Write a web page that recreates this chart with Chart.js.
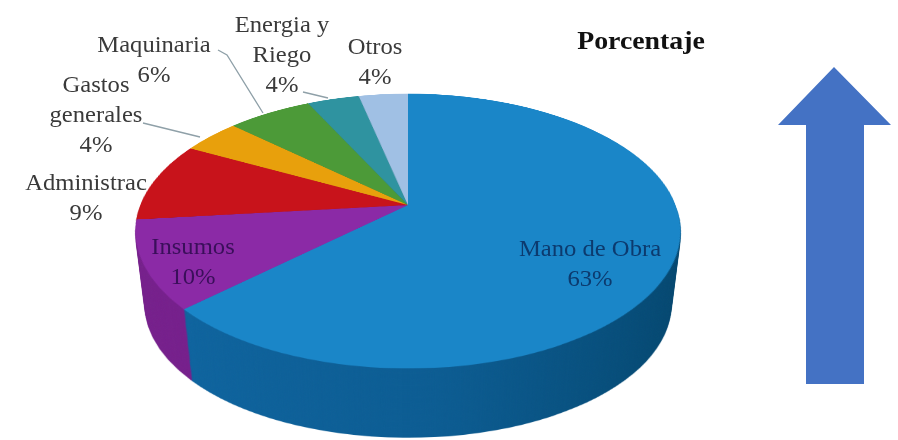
<!DOCTYPE html>
<html>
<head>
<meta charset="utf-8">
<script src="https://cdn.jsdelivr.net/npm/chart.js@4"></script>
<style>
    html, body { margin: 0; background: #fff; }
    #stage { position: relative; width: 898px; height: 440px; overflow: hidden; background: #fff; }
    /* the pie is drawn flat and tilted with css so the centre sits off the ellipse middle */
    #stage canvas {
        position: absolute; left: 143px; top: -60px;
        width: 530px; height: 530px;
    }
    .label {
        position: absolute; transform: translateX(-50%) scaleX(1.07);
        font: 23px/30px "Liberation Serif", serif; color: #3a3a3a;
        text-align: center; white-space: nowrap;
    }
    svg { position: absolute; left: 0; top: 0; }
</style>
</head>
<body>
<div id="stage"></div>
<script>
const categories = ["Mano de Obra", "Insumos", "Administrac", "Gastos generales", "Maquinaria", "Energia y Riego", "Otros"];
// slice sizes, the labels show them rounded
const values = [63, 10.3, 9.4, 4.1, 6, 3.7, 3.5];
const topColors = ['#1a86c8', '#8b2aa6', '#c8131b', '#e8a00c', '#4c9a38', '#2f93a0', '#a0c0e4'];
const wallColors = ['#0d5f96', '#76208c', '#8e0f14', '#a87408', '#36702a', '#206a72', '#7289a4'];

const title = "Porcentaje";
const labelLines = [["Mano de Obra"], ["Insumos"], ["Administrac"], ["Gastos", "generales"], ["Maquinaria"], ["Energia y", "Riego"], ["Otros"]];
const labelX = [590, 193, 86, 96, 154, 282, 375];
const labelY = [234, 232, 168, 70, 30, 10, 32];
const labelColors = ['#0c3a6e', '#3a0f5a', '#3a3a3a', '#3a3a3a', '#3a3a3a', '#3a3a3a', '#3a3a3a'];

const TILT = 'scaleX(1.01) perspective(1209px) rotateX(60deg)';
const DEPTH = 75;
const SHRINK = 0.035;
const stage = document.getElementById("stage");

function makePie(colors) {
    const canvas = document.createElement("canvas");
    canvas.width = 530;
    canvas.height = 530;
    stage.appendChild(canvas);
    return new Chart(canvas, {
        type: 'pie',
        data: {
            labels: categories,
            datasets: [{ data: values, backgroundColor: colors, borderWidth: 0 }]
        },
        options: {
            responsive: false,
            animation: false,
            layout: { padding: 0 },
            plugins: { legend: { display: false }, tooltip: { enabled: false } }
        }
    });
}

function wallTransform(i) {
    const s = 1 - SHRINK * i / DEPTH;
    return 'translateY(' + i + 'px) scale(' + s + ') ' + TILT;
}

// side wall: same pie in dark colours, stacked downwards and a bit smaller further down
const wall = makePie(wallColors.slice());
const wallCtx = wall.canvas.getContext("2d");
const blueShade = wallCtx.createLinearGradient(0, 0, 530, 0);
blueShade.addColorStop(0, '#0f66a2');
blueShade.addColorStop(0.55, '#0c5c92');
blueShade.addColorStop(1, '#04466e');
wall.data.datasets[0].backgroundColor[0] = blueShade;
wall.update();
wall.canvas.style.transform = wallTransform(DEPTH);

for (let i = DEPTH - 1; i > 0; i--) {
    const layer = document.createElement("canvas");
    layer.width = 530;
    layer.height = 530;
    layer.getContext("2d").drawImage(wall.canvas, 0, 0);
    layer.style.transform = wallTransform(i);
    stage.appendChild(layer);
}

const top_ = makePie(topColors);
top_.canvas.style.transform = TILT;

// leader lines and arrow
stage.insertAdjacentHTML('beforeend',
    '<svg width="898" height="440">' +
    '<polyline points="218,50 227,55 263,113" fill="none" stroke="#8fa0a8" stroke-width="1.3"/>' +
    '<polyline points="143,123 200,137" fill="none" stroke="#8fa0a8" stroke-width="1.3"/>' +
    '<polyline points="303,92 328,98" fill="none" stroke="#8fa0a8" stroke-width="1.3"/>' +
    '<polygon points="834,67 891,125 864,125 864,384 806,384 806,125 778,125" fill="#4472c4"/>' +
    '</svg>');

categories.forEach(function (name, i) {
    const div = document.createElement("div");
    div.className = "label";
    div.style.left = labelX[i] + "px";
    div.style.top = labelY[i] + "px";
    div.style.color = labelColors[i];
    div.innerHTML = labelLines[i].concat(Math.round(values[i]) + "%").join("<br>");
    stage.appendChild(div);
});

const head = document.createElement("div");
head.className = "label";
head.style.left = "641px";
head.style.top = "26px";
head.style.font = 'bold 26px/30px "Liberation Serif", serif';
head.style.color = "#111";
head.textContent = title;
stage.appendChild(head);
</script>
</body>
</html>
